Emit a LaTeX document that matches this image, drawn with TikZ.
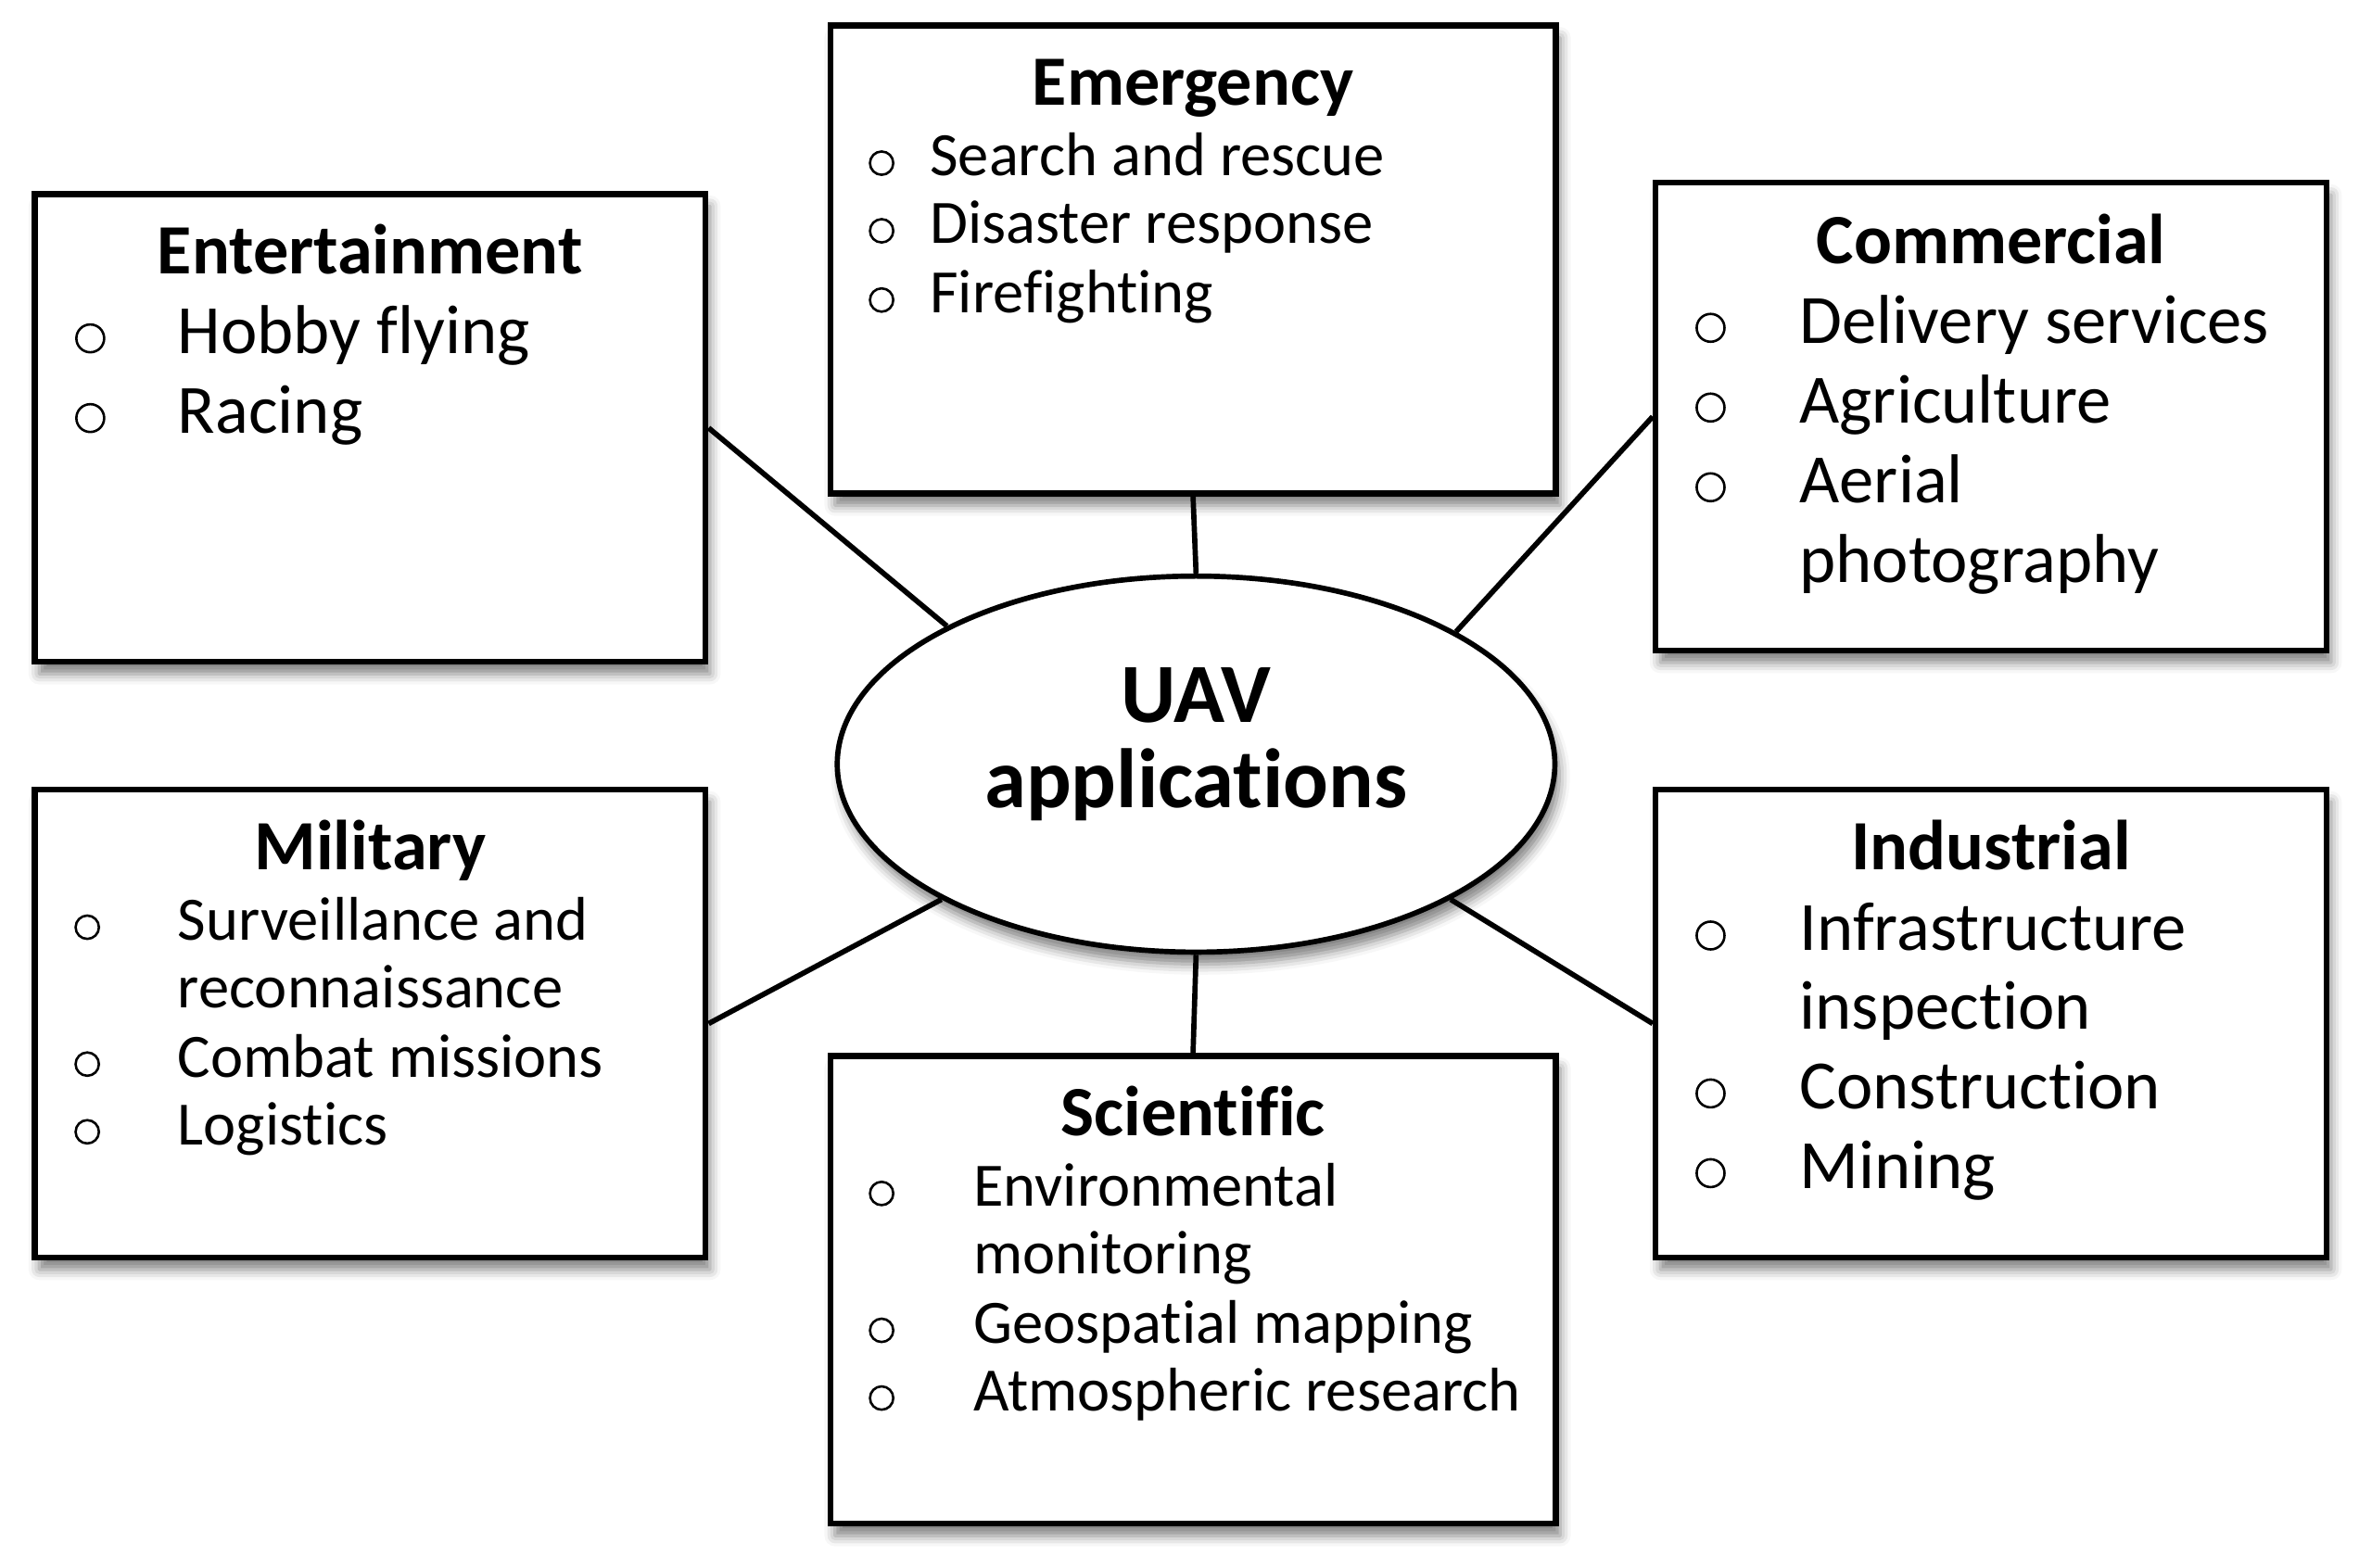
\documentclass[tikz,border=0pt]{standalone}
\usepackage{fontspec}
\setmainfont{Carlito}[Ligatures=CommonOff]
\usetikzlibrary{shapes.geometric,shadows.blur}
\tikzset{
  box/.style={draw, line width=4pt, fill=white, rectangle, inner sep=0pt,
    minimum width=446pt, minimum height=311pt,
    blur shadow={shadow xshift=3pt, shadow yshift=-8pt, shadow blur radius=7pt, shadow opacity=50}},
  wbox/.style={box, minimum width=482pt},
  hub/.style={draw, line width=3.5pt, fill=white, ellipse, inner sep=0pt,
    minimum width=477pt, minimum height=250pt,
    blur shadow={shadow xshift=3pt, shadow yshift=-8pt, shadow blur radius=7pt, shadow opacity=50}},
  ttl/.style={anchor=base, inner sep=0pt, font=\fontsize{47}{50}\selectfont\bfseries},
  big/.style={anchor=base west, inner sep=0pt, font=\fontsize{46}{50}\selectfont},
  sml/.style={anchor=base west, inner sep=0pt, font=\fontsize{41}{45}\selectfont},
  bulB/.style={draw, circle, line width=1.6pt, inner sep=0pt, minimum size=18.5pt, anchor=south},
  bulS/.style={draw, circle, line width=1.6pt, inner sep=0pt, minimum size=15.5pt, anchor=south},
  link/.style={line width=3.5pt},
}
\begin{document}
\begin{tikzpicture}[x=1pt, y=-1pt]
\useasboundingbox (0,0) rectangle (1568,1042);

% boxes
\node[box]  (ent) at (246,284.5) {};
\node[wbox] (emg) at (793,172.5) {};
\node[box]  (com) at (1323.5,277) {};
\node[box]  (mil) at (246,680.5) {};
\node[wbox] (sci) at (793,857.5) {};
\node[box]  (ind) at (1323.5,680.5) {};
\node[hub]  (uav) at (795,508) {};

% connectors
\draw[link] (ent.east)  -- (uav.151.8);
\draw[link] (emg.south) -- (uav.north);
\draw[link] (com.west)  -- (uav.27.9);
\draw[link] (mil.east)  -- (uav.208.2);
\draw[link] (sci.north) -- (uav.south);
\draw[link] (ind.west)  -- (uav.332.1);

% hub text
\node[anchor=base, inner sep=0pt, font=\fontsize{56}{60}\selectfont\bfseries] (uavA) at (795,480) {UAV};
\node[anchor=base, inner sep=0pt, font=\fontsize{56}{60}\selectfont\bfseries] (uavB) at (795,537) {applications};

% Entertainment
\node[ttl] (entT) at (246,182) {Entertainment};
\node[bulB] (entB1) at (60,235) {};
\node[big] (entI1) at (118,235) {Hobby flying};
\node[bulB] (entB2) at (60,288) {};
\node[big] (entI2) at (118,288) {Racing};

% Emergency
\node[ttl] (emgT) at (793,70) {Emergency};
\node[bulS] (emgB1) at (586,117) {};
\node[sml] (emgI1) at (618,117) {Search and rescue};
\node[bulS] (emgB2) at (586,162) {};
\node[sml] (emgI2) at (618,162) {Disaster response};
\node[bulS] (emgB3) at (586,208) {};
\node[sml] (emgI3) at (618,208) {Firefighting};

% Commercial
\node[ttl] (comT) at (1323.5,175) {Commercial};
\node[bulB] (comB1) at (1137,228) {};
\node[big] (comI1) at (1196,228) {Delivery services};
\node[bulB] (comB2) at (1137,281) {};
\node[big] (comI2) at (1196,281) {Agriculture};
\node[bulB] (comB3) at (1137,334) {};
\node[big] (comI3) at (1196,334) {Aerial};
\node[big] (comI3b) at (1196,387) {photography};

% Military
\node[ttl] (milT) at (246,578) {Military};
\node[bulS] (milB1) at (58,625) {};
\node[sml] (milI1) at (118,625) {Surveillance and};
\node[sml] (milI1b) at (118,670) {reconnaissance};
\node[bulS] (milB2) at (58,716) {};
\node[sml] (milI2) at (118,716) {Combat missions};
\node[bulS] (milB3) at (58,761) {};
\node[sml] (milI3) at (118,761) {Logistics};

% Scientific
\node[ttl] (sciT) at (793,755) {Scientific};
\node[bulS] (sciB1) at (586,802) {};
\node[sml] (sciI1) at (647,802) {Environmental};
\node[sml] (sciI1b) at (647,847) {monitoring};
\node[bulS] (sciB2) at (586,893) {};
\node[sml] (sciI2) at (647,893) {Geospatial mapping};
\node[bulS] (sciB3) at (586,938) {};
\node[sml] (sciI3) at (647,938) {Atmospheric research};

% Industrial
\node[ttl] (indT) at (1323.5,578) {Industrial};
\node[bulB] (indB1) at (1137,632) {};
\node[big] (indI1) at (1196,632) {Infrastructure};
\node[big] (indI1b) at (1196,684) {inspection};
\node[bulB] (indB2) at (1137,737) {};
\node[big] (indI2) at (1196,737) {Construction};
\node[bulB] (indB3) at (1137,790) {};
\node[big] (indI3) at (1196,790) {Mining};
\end{tikzpicture}
\end{document}
